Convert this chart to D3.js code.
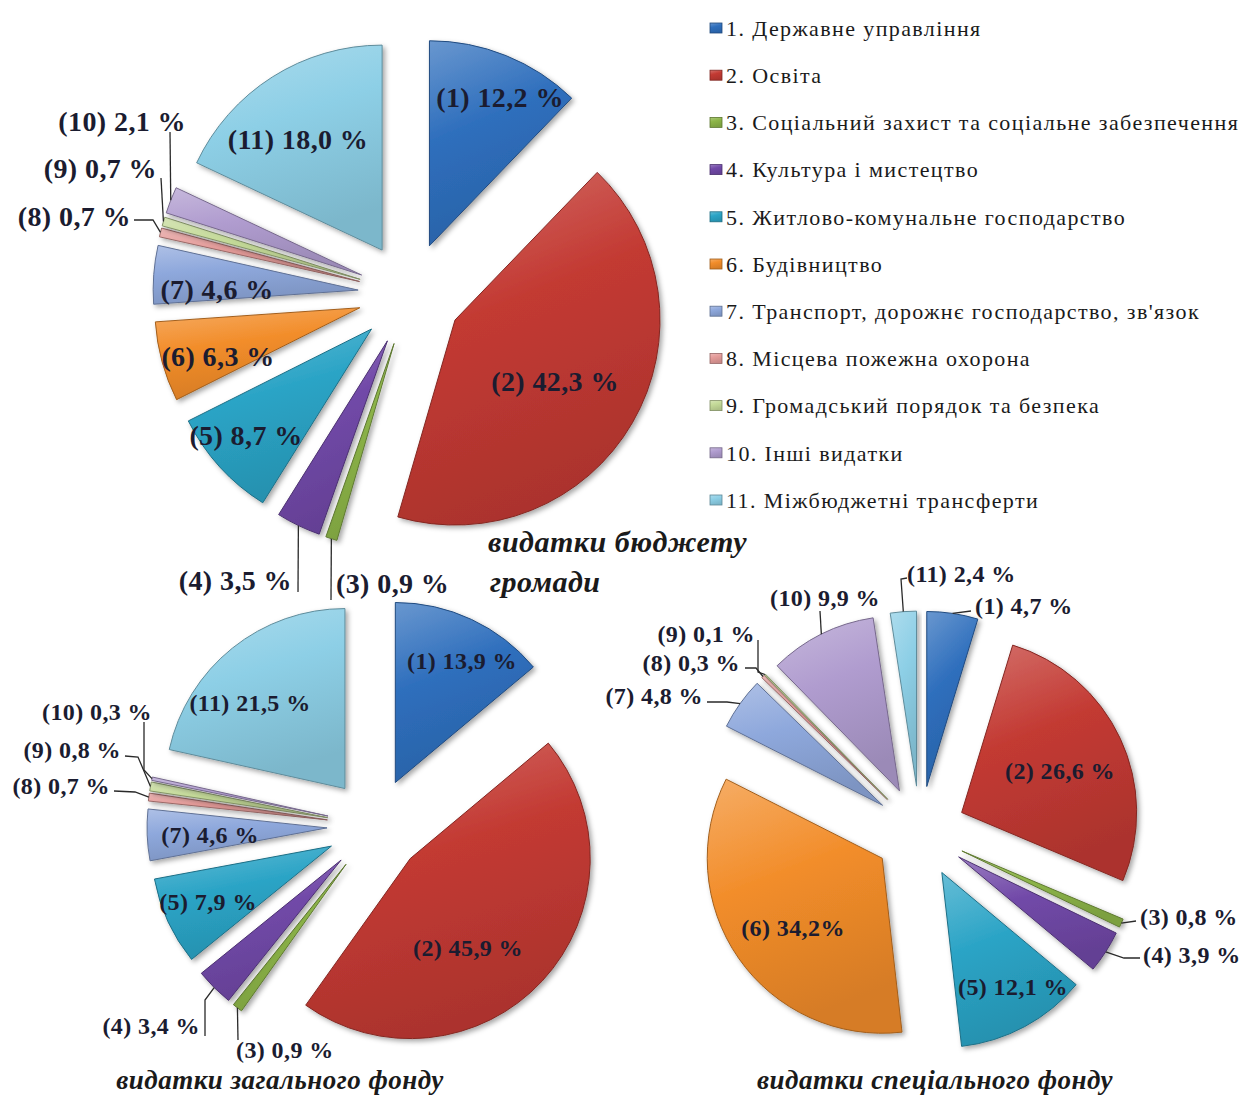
<!DOCTYPE html>
<html>
<head>
<meta charset="utf-8">
<script src="https://cdn.jsdelivr.net/npm/d3@7"></script>
<style>
  body { margin: 0; background: #fff; }
  svg { display: block; }
</style>
</head>
<body>
<div id="chart"></div>
<script>
// categories of spending (legend order = slice order)
const categories = [
  '1. Державне управління',
  '2. Освіта',
  '3. Соціальний захист  та соціальне забезпечення',
  '4. Культура і мистецтво',
  '5. Житлово-комунальне  господарство',
  '6. Будівництво',
  '7. Транспорт, дорожнє господарство,  зв\'язок',
  '8. Місцева пожежна охорона',
  '9. Громадський порядок та безпека',
  '10. Інші видатки',
  '11. Міжбюджетні  трансферти',
];

// shares, %
const budgetTotal = [12.2, 42.3, 0.9, 3.5, 8.7, 6.3, 4.6, 0.7, 0.7, 2.1, 18.0];
const generalFund = [13.9, 45.9, 0.9, 3.4, 7.9, 0, 4.6, 0.7, 0.8, 0.3, 21.5];
const specialFund = [4.7, 26.6, 0.8, 3.9, 12.1, 34.2, 4.8, 0.3, 0.1, 9.9, 2.4];

const chartTitles = [
  ['видатки бюджету', 'громади'],
  ['видатки загального фонду'],
  ['видатки спеціального фонду'],
];

const colors = ['#2f6fbd', '#c33a33', '#8db548', '#7149a8', '#2ba4c6', '#f28d2a',
  '#8ea8dc', '#e49b99', '#c4da98', '#b09ccf', '#8dcfe6'];

const W = 1257;
const H = 1100;
const serif = '"Liberation Serif", "Times New Roman", serif';

const svg = d3.select('#chart').append('svg')
  .attr('width', W)
  .attr('height', H)
  .attr('viewBox', `0 0 ${W} ${H}`);

const defs = svg.append('defs');

const shadow = defs.append('filter')
  .attr('id', 'shadow')
  .attr('x', '-20%').attr('y', '-20%')
  .attr('width', '140%').attr('height', '140%');
shadow.append('feDropShadow')
  .attr('dx', 2.5).attr('dy', 2.5)
  .attr('stdDeviation', 2.5)
  .attr('flood-color', '#000')
  .attr('flood-opacity', 0.35);

colors.forEach((c, i) => {
  const g = defs.append('linearGradient')
    .attr('id', `grad${i}`)
    .attr('x1', 0).attr('y1', 0)
    .attr('x2', 0.3).attr('y2', 1);
  g.append('stop').attr('offset', '0%')
    .attr('stop-color', d3.interpolateRgb(c, '#fff')(0.28));
  g.append('stop').attr('offset', '45%').attr('stop-color', c);
  g.append('stop').attr('offset', '100%')
    .attr('stop-color', d3.color(c).darker(0.35));
});

const fmt = (v, tight) => v.toFixed(1).replace('.', ',') + (tight ? '%' : ' %');

// label placement (manual, like the source workbook)
const pies = [
  {
    values: budgetTotal, cx: 410, cy: 294, r: 205, explode: 52, font: 28,
    title: { x: 488, y: 541, anchor: 'start', lineH: 40, size: 30 },
    labels: [
      { x: 500, y: 97, a: 'middle' },
      { x: 555, y: 381, a: 'middle' },
      { x: 336, y: 583, a: 'start', via: [[331, 600]] },
      { x: 292, y: 580, a: 'end', via: [[298, 592]] },
      { x: 246, y: 435, a: 'middle' },
      { x: 218, y: 356, a: 'middle' },
      { x: 217, y: 289, a: 'middle' },
      { x: 131, y: 216, a: 'end', via: [[134, 220], [153, 220]] },
      { x: 157, y: 168, a: 'end', via: [[161, 178]] },
      { x: 186, y: 121, a: 'end', via: [[170, 132]] },
      { x: 298, y: 139, a: 'middle' },
    ],
  },
  {
    values: generalFund, cx: 375, cy: 826, r: 180, explode: 48, font: 24,
    title: { x: 280, y: 1080, anchor: 'middle', lineH: 0, size: 27 },
    labels: [
      { x: 462, y: 661, a: 'middle' },
      { x: 468, y: 948, a: 'middle' },
      { x: 236, y: 1050, a: 'start', via: [[238, 1040]] },
      { x: 200, y: 1026, a: 'end', via: [[205, 1036], [205, 1000]] },
      { x: 208, y: 902, a: 'middle' },
      null,
      { x: 210, y: 835, a: 'middle' },
      { x: 110, y: 786, a: 'end', via: [[114, 791], [135, 792]] },
      { x: 121, y: 750, a: 'end', via: [[125, 756], [138, 757]] },
      { x: 152, y: 712, a: 'end', via: [[144, 722], [144, 770]] },
      { x: 250, y: 703, a: 'middle' },
    ],
  },
  {
    values: specialFund, cx: 920, cy: 832, r: 175, explode: 46, font: 24,
    title: { x: 935, y: 1080, anchor: 'middle', lineH: 0, size: 27 },
    labels: [
      { x: 975, y: 606, a: 'start', via: [[971, 611]] },
      { x: 1060, y: 771, a: 'middle' },
      { x: 1140, y: 917, a: 'start', via: [[1136, 921]] },
      { x: 1143, y: 955, a: 'start', via: [[1140, 958], [1124, 958]] },
      { x: 1013, y: 987, a: 'middle' },
      { x: 793, y: 928, a: 'middle', tight: true },
      { x: 703, y: 696, a: 'end', via: [[707, 702], [727, 702]] },
      { x: 740, y: 663, a: 'end', via: [[745, 668], [756, 668]] },
      { x: 755, y: 634, a: 'end', via: [[758, 640], [758, 672]] },
      { x: 825, y: 598, a: 'middle', via: [[820, 611]] },
      { x: 907, y: 574, a: 'start', via: [[907, 578], [901, 579]] },
    ],
  },
];

const pie = d3.pie().sort(null).value(d => d.v);

pies.forEach((p, pi) => {
  const arcs = pie(p.values.map((v, i) => ({ v, i })));
  const arc = d3.arc().innerRadius(0).outerRadius(p.r);

  const g = svg.append('g')
    .attr('transform', `translate(${p.cx},${p.cy})`);

  // unit vector of the slice bisector
  const dir = d => {
    const m = (d.startAngle + d.endAngle) / 2;
    return [Math.sin(m), -Math.cos(m)];
  };

  g.selectAll('path.slice')
    .data(arcs.filter(d => d.value > 0))
    .join('path')
    .attr('class', 'slice')
    .attr('transform', d => {
      const [ux, uy] = dir(d);
      return `translate(${ux * p.explode},${uy * p.explode})`;
    })
    .attr('d', arc)
    .attr('fill', d => `url(#grad${d.data.i})`)
    .attr('stroke', d => d3.color(colors[d.data.i]).darker(1.1))
    .attr('stroke-width', 1)
    .attr('stroke-linejoin', 'round')
    .attr('filter', 'url(#shadow)');

  // leader lines: from label to the outer edge of the slice
  const lab = svg.append('g');
  arcs.forEach(d => {
    const L = p.labels[d.data.i];
    if (!L || !L.via) return;
    const [ux, uy] = dir(d);
    const rr = p.r + p.explode;
    const tip = [p.cx + ux * rr, p.cy + uy * rr];
    lab.append('path')
      .attr('d', d3.line()([...L.via, tip]))
      .attr('fill', 'none')
      .attr('stroke', '#2a2a2a')
      .attr('stroke-width', 1.3);
  });

  arcs.forEach(d => {
    const L = p.labels[d.data.i];
    if (!L) return;
    lab.append('text')
      .attr('x', L.x)
      .attr('y', L.y)
      .attr('dy', '0.35em')
      .attr('text-anchor', L.a)
      .style('font-family', serif)
      .style('font-weight', 'bold')
      .style('font-size', `${p.font}px`)
      .style('letter-spacing', '0.4px')
      .attr('fill', '#1b1c30')
      .text(`(${d.data.i + 1}) ${fmt(d.data.v, L.tight)}`);
  });

  const t = p.title;
  chartTitles[pi].forEach((line, li) => {
    svg.append('text')
      .attr('x', t.x + (li ? 2 : 0))
      .attr('y', t.y + li * t.lineH)
      .attr('dy', '0.35em')
      .attr('text-anchor', t.anchor)
      .style('font-family', serif)
      .style('font-weight', 'bold')
      .style('font-style', 'italic')
      .style('font-size', `${t.size}px`)
      .style('letter-spacing', '0.5px')
      .attr('fill', '#1a1a1a')
      .text(line);
  });
});

// legend
const legendY = d3.scalePoint()
  .domain(categories)
  .range([28, 500]);

const legend = svg.append('g').attr('class', 'legend');
const item = legend.selectAll('g')
  .data(categories)
  .join('g')
  .attr('transform', d => `translate(710,${legendY(d)})`);

item.append('rect')
  .attr('x', 0).attr('y', -5)
  .attr('width', 12).attr('height', 10)
  .attr('fill', (d, i) => `url(#grad${i})`)
  .attr('stroke', (d, i) => d3.color(colors[i]).darker(1.2))
  .attr('stroke-width', 0.8);

item.append('text')
  .attr('x', 16)
  .attr('y', 0)
  .attr('dy', '0.35em')
  .style('font-family', serif)
  .style('font-size', '22px')
  .style('letter-spacing', '1.4px')
  .attr('fill', '#1a1a1a')
  .text(d => d);
</script>
</body>
</html>
